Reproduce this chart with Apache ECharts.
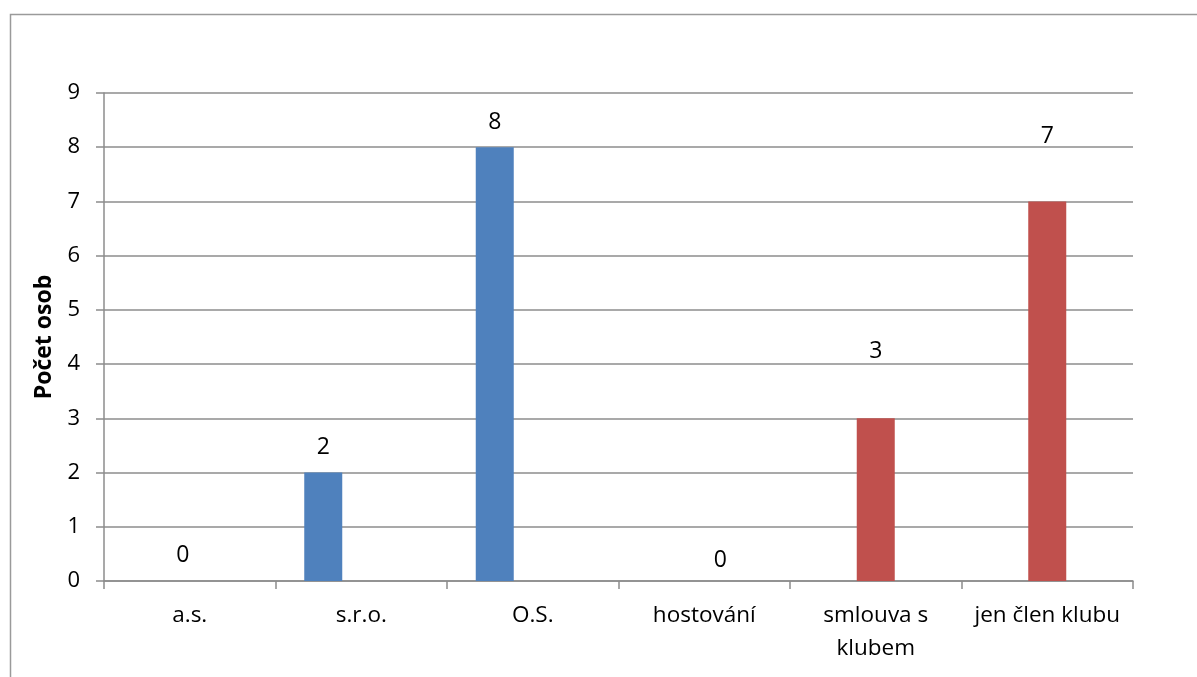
<!DOCTYPE html>
<html>
<head>
<meta charset="utf-8">
<title>Počet osob</title>
<script src="https://cdn.jsdelivr.net/npm/echarts@6/dist/echarts.min.js"></script>
<style>
  html, body { margin: 0; padding: 0; background: #fff; }
  #chart { width: 1197px; height: 677px; }
</style>
</head>
<body>
<div id="chart"></div>
<script>
// Categories along the x axis
const categories = ['a.s.', 's.r.o.', 'O.S.', 'hostování', 'smlouva s\nklubem', 'jen člen klubu'];
// Counts for the blue group (first three categories) and the red group (last three)
const blueValues = [0, 2, 8, '-', '-', '-'];
const redValues = ['-', '-', '-', 0, 3, 7];
// Y axis scale
const yMin = 0;
const yMax = 9;
const yStep = 1;
const yTitle = 'Počet osob';

// Per-bar label nudges [dx, dy] for the data labels
const labelShift = [[31, -14], [0, -14], [0, -13], [16, -9], [0, -55], [0, -53]];

const FONT = '"Open Sans", "Noto Sans", sans-serif';
const GRID_COLOR = '#8c8c8c';

function withLabels(values) {
  return values.map((v, i) => {
    if (v === '-') return v;
    return { value: v, label: { offset: labelShift[i] } };
  });
}

const labelStyle = {
  show: true,
  position: 'top',
  distance: 0,
  color: '#000',
  fontFamily: FONT,
  fontSize: 23,
  lineHeight: 23
};

const chart = echarts.init(document.getElementById('chart'), null, { renderer: 'canvas' });
chart.setOption({
  animation: false,
  backgroundColor: '#fff',
  graphic: [{
    type: 'rect',
    shape: { x: 10.5, y: 14.5, width: 1300, height: 800 },
    style: { fill: 'none', stroke: '#9a9a9a', lineWidth: 1.5 },
    silent: true,
    z: -1
  }],
  grid: { left: 104, right: 64, top: 93, bottom: 96, containLabel: false },
  xAxis: {
    type: 'category',
    data: categories,
    axisLine: { show: true, lineStyle: { color: GRID_COLOR, width: 1.5 } },
    axisTick: { show: true, length: 8, lineStyle: { color: GRID_COLOR, width: 1.5 } },
    axisLabel: {
      interval: 0,
      margin: 18,
      color: '#000',
      fontFamily: FONT,
      fontSize: 22.5,
      lineHeight: 33
    }
  },
  yAxis: {
    type: 'value',
    min: yMin,
    max: yMax,
    interval: yStep,
    name: yTitle,
    nameLocation: 'middle',
    nameGap: 48,
    nameRotate: 90,
    nameTextStyle: { color: '#000', fontFamily: FONT, fontSize: 23, fontWeight: 'bold' },
    axisLine: { show: true, lineStyle: { color: GRID_COLOR, width: 1.5 } },
    axisTick: { show: true, length: 8, lineStyle: { color: GRID_COLOR, width: 1.5 } },
    splitLine: { show: true, lineStyle: { color: GRID_COLOR, width: 1.5 } },
    axisLabel: {
      margin: 24,
      color: '#000',
      fontFamily: FONT,
      fontSize: 22
    }
  },
  series: [
    {
      name: 'modrá',
      type: 'bar',
      data: withLabels(blueValues),
      barWidth: 38,
      barGap: '0%',
      itemStyle: { color: '#4F81BD' },
      label: labelStyle
    },
    {
      name: 'červená',
      type: 'bar',
      data: withLabels(redValues),
      barWidth: 38,
      barGap: '0%',
      itemStyle: { color: '#C0504D' },
      label: labelStyle
    },
    {
      name: 'prázdná',
      type: 'bar',
      data: ['-', '-', '-', '-', '-', '-'],
      barWidth: 38,
      barGap: '0%'
    }
  ]
});
</script>
</body>
</html>
